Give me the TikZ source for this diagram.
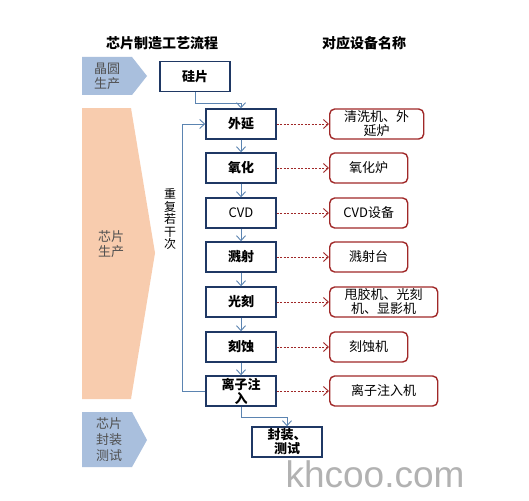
\documentclass[tikz,border=0pt]{standalone}
\usepackage{fontspec}
\setmainfont{Noto Sans CJK SC}
\newfontfamily\wmfont{Liberation Sans}
\usetikzlibrary{arrows.meta}
\definecolor{navy}{HTML}{1F3864}
\definecolor{linkblue}{HTML}{5B84B1}
\definecolor{dred}{HTML}{A02828}
\definecolor{chevblue}{HTML}{A9BFDD}
\definecolor{peach}{HTML}{F8CCAE}
\definecolor{softtext}{HTML}{505050}
\tikzset{
  stepbox/.style={draw=navy, line width=1.4pt, fill=white, minimum width=70pt, minimum height=30pt, inner sep=1pt, align=center, font=\fontsize{13}{14}\selectfont\bfseries},
  devbox/.style={draw=dred, line width=1.4pt, rounded corners=5pt, fill=white, minimum height=30pt, inner sep=1pt, align=center, anchor=west, font=\fontsize{13}{14}\selectfont},
  flow/.style={draw=linkblue, line width=0.9pt, -{Straight Barb[length=5pt,width=9pt]}},
  devarr/.style={draw=dred, line width=0.9pt, dashed, dash pattern=on 2pt off 1.5pt, -{Straight Barb[length=5pt,width=9pt]}},
  stage/.style={text=softtext, align=center, font=\fontsize{13}{15}\selectfont},
  head/.style={font=\fontsize{14}{16}\selectfont\bfseries}
}
\begin{document}
\begin{tikzpicture}[x=1pt, y=-1pt]
\useasboundingbox (0,0) rectangle (529,500);
\fill[white] (0,0) rectangle (529,500);
% stage shapes
\fill[chevblue] (82,57) -- (132,57) -- (147,76) -- (132,95) -- (82,95) -- cycle;
\fill[peach] (82,108) -- (131,108) -- (155,253) -- (131,399) -- (82,399) -- cycle;
\fill[chevblue] (82,412) -- (132,412) -- (147,440) -- (132,467) -- (82,467) -- cycle;
\node[stage] (s1) at (107,76) {晶圆\\生产};
\node[stage] (s2) at (111,244) {芯片\\生产};
\node[stage, font=\fontsize{13}{16}\selectfont] (s3) at (109,440) {芯片\\封装\\测试};
% headers
\node[head] (h1) at (162,43) {芯片制造工艺流程};
\node[head] (h2) at (364,43) {对应设备名称};
% process steps
\node[stepbox] (si) at (195,76.5) {硅片};
\node[stepbox] (wy) at (241,124) {外延};
\node[stepbox] (yh) at (241,168) {氧化};
\node[stepbox, font=\fontsize{13}{14}\selectfont] (cvd) at (241,213) {CVD};
\node[stepbox] (js) at (241,257) {溅射};
\node[stepbox] (gk) at (241,302) {光刻};
\node[stepbox] (ks) at (241,347) {刻蚀};
\node[stepbox] (lz) at (241,391) {离子注\\入};
\node[stepbox] (fz) at (287,442) {封装、\\测试};
% equipment
\node[devbox, minimum width=94pt] (e1) at (329,124) {清洗机、外\\延炉};
\node[devbox, minimum width=78pt] (e2) at (329,168) {氧化炉};
\node[devbox, minimum width=78pt] (e3) at (329,213) {CVD设备};
\node[devbox, minimum width=78pt] (e4) at (329,257) {溅射台};
\node[devbox, minimum width=108pt] (e5) at (329,302) {甩胶机、光刻\\机、显影机};
\node[devbox, minimum width=78pt] (e6) at (329,347) {刻蚀机};
\node[devbox, minimum width=108pt] (e7) at (329,391) {离子注入机};
% flow connectors
\draw[flow] (si.south) -- ++(0,11) -| (wy.north);
\draw[flow] (wy) -- (yh);
\draw[flow] (yh) -- (cvd);
\draw[flow] (cvd) -- (js);
\draw[flow] (js) -- (gk);
\draw[flow] (gk) -- (ks);
\draw[flow] (ks) -- (lz);
\draw[flow] (lz.south) -- ++(0,11) -| (fz.north);
\draw[flow] (lz.west) -- ++(-23,0) |- (wy.west);
\node[font=\fontsize{12}{12.5}\selectfont, align=center, inner sep=0pt] (rep) at (170,219) {重\\复\\若\\干\\次};
% equipment connectors
\draw[devarr] (wy.east) -- (e1.west);
\draw[devarr] (yh.east) -- (e2.west);
\draw[devarr] (cvd.east) -- (e3.west);
\draw[devarr] (js.east) -- (e4.west);
\draw[devarr] (gk.east) -- (e5.west);
\draw[devarr] (ks.east) -- (e6.west);
\draw[devarr] (lz.east) -- (e7.west);
% watermark
\node[text=black!30, font=\wmfont\fontsize{37}{37}\selectfont, anchor=base] (wm) at (375,487) {khcoo.com};
\end{tikzpicture}
\end{document}
